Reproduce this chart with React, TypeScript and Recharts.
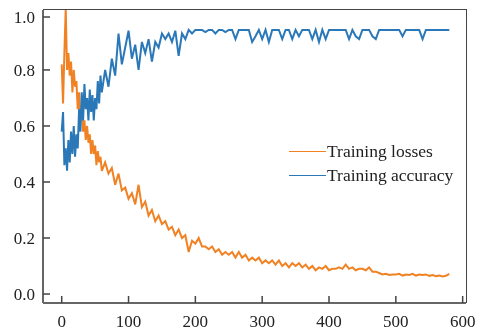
import React from 'react';
import { LineChart, Line, XAxis, YAxis, Legend } from 'recharts';

// epochs: every 2 at the start (noisy), then every 5
const epochs = [
    0, 2, 4, 6, 8, 10, 12, 14, 16, 18, 20, 22, 24, 26, 28, 30, 32, 34, 36, 38, 40, 42, 44, 46, 48, 50, 52, 54, 56, 58, 60,
    65, 70, 75, 80, 85, 90, 95, 100, 105, 110,
    115, 120, 125, 130, 135, 140, 145, 150, 155, 160,
    165, 170, 175, 180, 185, 190, 195, 200, 205, 210,
    215, 220, 225, 230, 235, 240, 245, 250, 255, 260,
    265, 270, 275, 280, 285, 290, 295, 300, 305, 310,
    315, 320, 325, 330, 335, 340, 345, 350, 355, 360,
    365, 370, 375, 380, 385, 390, 395, 400, 405, 410,
    415, 420, 425, 430, 435, 440, 445, 450, 455, 460,
    465, 470, 475, 480, 485, 490, 495, 500, 505, 510,
    515, 520, 525, 530, 535, 540, 545, 550, 555, 560,
    565, 570, 575, 580,
];

const trainingLosses = [
    0.82, 0.68, 0.86, 1.02, 0.80, 0.86, 0.78, 0.83, 0.72, 0.80, 0.74, 0.76, 0.66, 0.72, 0.62, 0.66,
    0.58, 0.62, 0.55, 0.60, 0.54, 0.57, 0.50, 0.55, 0.50, 0.53, 0.46, 0.51, 0.47, 0.49, 0.44,
    0.47, 0.43, 0.45, 0.39, 0.43, 0.37, 0.38, 0.34, 0.36, 0.32,
    0.39, 0.31, 0.33, 0.28, 0.30, 0.26, 0.28, 0.25, 0.26, 0.23,
    0.24, 0.21, 0.23, 0.20, 0.21, 0.15, 0.19, 0.18, 0.20, 0.17,
    0.17, 0.16, 0.17, 0.15, 0.16, 0.14, 0.15, 0.14, 0.15, 0.13,
    0.15, 0.13, 0.14, 0.12, 0.13, 0.12, 0.13, 0.11, 0.12, 0.11,
    0.12, 0.105, 0.12, 0.10, 0.11, 0.095, 0.11, 0.10, 0.11, 0.095,
    0.105, 0.09, 0.10, 0.085, 0.095, 0.09, 0.10, 0.085, 0.09, 0.09,
    0.095, 0.09, 0.105, 0.09, 0.095, 0.085, 0.09, 0.09, 0.085, 0.095,
    0.08, 0.08, 0.075, 0.07, 0.072, 0.068, 0.07, 0.07, 0.072, 0.066,
    0.07, 0.068, 0.072, 0.066, 0.07, 0.068, 0.07, 0.065, 0.068, 0.064,
    0.066, 0.063, 0.065, 0.072,
];

const trainingAccuracy = [
    0.58, 0.65, 0.46, 0.52, 0.44, 0.55, 0.47, 0.58, 0.50, 0.60, 0.49, 0.57, 0.52, 0.66, 0.58, 0.72,
    0.62, 0.75, 0.66, 0.70, 0.62, 0.73, 0.65, 0.71, 0.62, 0.70, 0.66, 0.76, 0.68, 0.78, 0.72,
    0.80, 0.74, 0.84, 0.78, 0.93, 0.82, 0.88, 0.94, 0.84, 0.89,
    0.80, 0.90, 0.86, 0.91, 0.83, 0.90, 0.88, 0.93, 0.91, 0.93,
    0.90, 0.94, 0.85, 0.93, 0.91, 0.943, 0.93, 0.943, 0.943, 0.943,
    0.935, 0.943, 0.943, 0.93, 0.943, 0.943, 0.935, 0.943, 0.943, 0.91,
    0.943, 0.943, 0.943, 0.943, 0.90, 0.92, 0.943, 0.91, 0.943, 0.90,
    0.943, 0.943, 0.943, 0.91, 0.943, 0.943, 0.91, 0.943, 0.92, 0.943,
    0.943, 0.943, 0.91, 0.943, 0.90, 0.943, 0.91, 0.943, 0.943, 0.943,
    0.943, 0.943, 0.943, 0.91, 0.943, 0.92, 0.91, 0.943, 0.943, 0.943,
    0.92, 0.91, 0.943, 0.943, 0.943, 0.943, 0.943, 0.943, 0.943, 0.92,
    0.943, 0.943, 0.943, 0.943, 0.943, 0.91, 0.943, 0.943, 0.943, 0.943,
    0.943, 0.943, 0.943, 0.943,
];

const xTicks = [0, 100, 200, 300, 400, 500, 600];
const yTicks = [0, 0.2, 0.4, 0.6, 0.8, 1.0];

const series = [
    { key: 'loss', name: 'Training losses', color: '#f08224' },
    { key: 'acc', name: 'Training accuracy', color: '#2a78b8' },
];

const data = epochs.map((epoch, i) => ({
    epoch,
    loss: trainingLosses[i],
    acc: trainingAccuracy[i],
}));

const FONT = '"Liberation Serif", "Times New Roman", serif';
const X_MIN = -28;
const X_MAX = 605;
const Y_MIN = -0.032;
const Y_MAX = 1.014;

const XTick = (props: any) => {
    const { x, y, payload } = props;
    return (
        <g>
            <line x1={x} y1={y - 18} x2={x} y2={y - 25} stroke="#444" strokeWidth={1.5} />
            <text x={x} y={y} dy="0.35em" textAnchor="middle" fontFamily={FONT} fontSize={17} fill="#222">
                {payload.value}
            </text>
        </g>
    );
};

const YTick = (props: any) => {
    const { x, y, payload } = props;
    return (
        <g>
            <line x1={x + 8} y1={y} x2={x + 15} y2={y} stroke="#444" strokeWidth={1.5} />
            <text x={x} y={y} dy="0.35em" textAnchor="end" fontFamily={FONT} fontSize={17} fill="#222">
                {payload.value.toFixed(1)}
            </text>
        </g>
    );
};

const LegendBox = () => (
    <div style={{ fontFamily: FONT, fontSize: 17.5, color: '#222' }}>
        {series.map((s) => (
            <div key={s.key} style={{ display: 'flex', alignItems: 'center', height: 24 }}>
                <span style={{ display: 'inline-block', width: 37, height: 0, borderTop: `1.6px solid ${s.color}` }} />
                <span style={{ marginLeft: 1, whiteSpace: 'nowrap' }}>{s.name}</span>
            </div>
        ))}
    </div>
);

const App = () => {
    // fixed so the chart never makes the page scroll
    return (
        <div style={{ position: 'fixed', left: 8, top: 8, width: 469, height: 327 }}>
            <style>{'.recharts-surface { overflow: visible; }'}</style>
            <LineChart width={469} height={327} data={data} margin={{ top: 2, right: 11, left: 0, bottom: 0 }}>
                <XAxis
                    dataKey="epoch"
                    type="number"
                    domain={[X_MIN, X_MAX]}
                    ticks={xTicks}
                    allowDataOverflow
                    height={32}
                    tickSize={0}
                    tickMargin={18}
                    tick={<XTick />}
                    axisLine={{ stroke: '#666', strokeWidth: 2 }}
                />
                <YAxis
                    type="number"
                    domain={[Y_MIN, Y_MAX]}
                    ticks={yTicks}
                    allowDataOverflow
                    width={35}
                    tickSize={0}
                    tickMargin={8}
                    tick={<YTick />}
                    axisLine={{ stroke: '#666', strokeWidth: 2 }}
                />
                <Legend
                    layout="vertical"
                    align="center"
                    verticalAlign="middle"
                    content={<LegendBox />}
                    wrapperStyle={{ left: 281, top: 131, width: 'auto' }}
                />
                {series.map((s) => (
                    <Line
                        key={s.key}
                        dataKey={s.key}
                        name={s.name}
                        type="linear"
                        stroke={s.color}
                        strokeWidth={2}
                        dot={false}
                        isAnimationActive={false}
                    />
                ))}
            </LineChart>
            {/* top and right frame of the plot box, drawn over the chart */}
            <div
                style={{
                    position: 'absolute',
                    zIndex: 10,
                    left: 35,
                    top: 1,
                    width: 424,
                    height: 294,
                    boxSizing: 'border-box',
                    borderTop: '1.5px solid #444',
                    borderRight: '1.5px solid #444',
                    pointerEvents: 'none',
                }}
            />
        </div>
    );
};

export default App;
